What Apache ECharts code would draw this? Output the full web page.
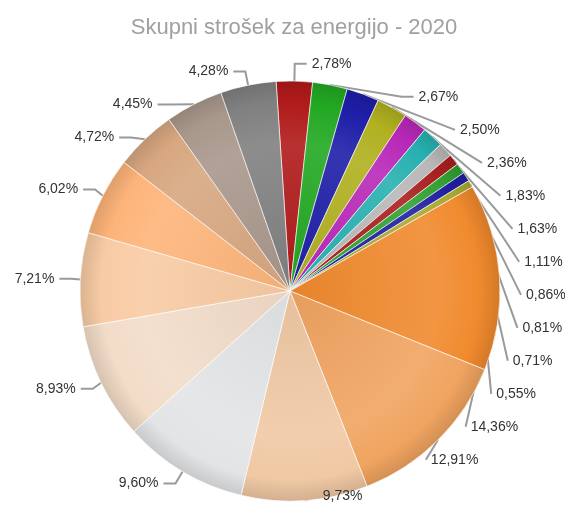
<!DOCTYPE html>
<html><head><meta charset="utf-8">
<script src="https://cdn.jsdelivr.net/npm/echarts@6/dist/echarts.min.js"></script>
<style>html,body{margin:0;padding:0;background:#fff}#c{width:565px;height:513px}</style>
</head><body><div id="c"></div>
<script>
const titleText = 'Skupni strošek za energijo - 2020';
const categories = ['Postavka 1','Postavka 2','Postavka 3','Postavka 4','Postavka 5','Postavka 6','Postavka 7','Postavka 8','Postavka 9','Postavka 10','Postavka 11','Postavka 12','Postavka 13','Postavka 14','Postavka 15','Postavka 16','Postavka 17','Postavka 18','Postavka 19','Postavka 20','Postavka 21'];
const values = [2.78, 2.67, 2.50, 2.36, 1.83, 1.63, 1.11, 0.86, 0.81, 0.71, 0.55, 14.36, 12.91, 9.73, 9.60, 8.93, 7.21, 6.02, 4.72, 4.45, 4.28];
const colors = ['#b01a1a','#22a822','#1e1ea8','#b0b020','#b828b8','#28b0b0','#b8b8b8','#a82020','#30a030','#2020a0','#a8a830','#f08a2e','#f0a460','#f0c8a4','#e2e4e6','#f2dcc8','#f8cba4','#fdb47a','#d7a780','#a8978b','#808080'];

function shade(hex, f) {
  const n = parseInt(hex.slice(1), 16);
  let r = (n >> 16) & 255, g = (n >> 8) & 255, b = n & 255;
  if (f >= 0) { r += (255 - r) * f; g += (255 - g) * f; b += (255 - b) * f; }
  else { r *= (1 + f); g *= (1 + f); b *= (1 + f); }
  return 'rgb(' + Math.round(r) + ',' + Math.round(g) + ',' + Math.round(b) + ')';
}
const CX = 290, CY = 291, R = 210;
function fill(c) {
  return {
    type: 'radial', x: CX, y: CY, r: R, global: true,
    colorStops: [
      { offset: 0, color: shade(c, -0.04) },
      { offset: 0.7, color: shade(c, 0.1) },
      { offset: 0.9, color: c },
      { offset: 1, color: shade(c, -0.12) }
    ]
  };
}

const chart = echarts.init(document.getElementById('c'), null, { renderer: 'canvas' });
chart.setOption({
  animation: false,
  title: {
    text: titleText, left: 289, top: 12, textAlign: 'center',
    textStyle: { color: '#a0a0a0', fontSize: 22, fontWeight: 'normal', fontFamily: 'Liberation Sans, Arial, sans-serif' }
  },
  series: [{
    type: 'pie',
    center: [CX, CY],
    radius: R,
    startAngle: 93.8,
    clockwise: true,
    avoidLabelOverlap: true,
    itemStyle: { borderColor: 'rgba(255,255,255,0.6)', borderWidth: 1 },
    label: {
      show: true,
      formatter: p => p.value.toFixed(2).replace('.', ',') + '%',
      fontSize: 14, color: '#333', fontFamily: 'Liberation Sans, Arial, sans-serif',
      lineHeight: 31,
      overflow: 'none'
    },
    labelLine: { show: true, length: 14, length2: 12, lineStyle: { color: '#9a9a9a', width: 2 } },
    emphasis: { disabled: true },
    data: values.map((v, i) => ({ name: categories[i], value: v, itemStyle: { color: fill(colors[i]) } }))
  }]
});
</script></body></html>
